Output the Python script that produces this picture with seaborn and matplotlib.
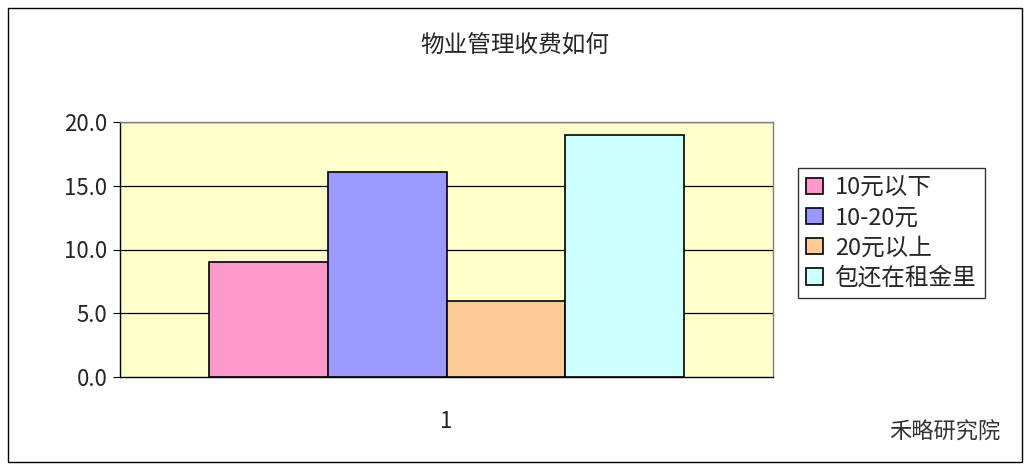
import matplotlib
matplotlib.use("Agg")
import matplotlib.pyplot as plt
import seaborn as sns
import pandas as pd
from matplotlib.patches import Rectangle

categories = ["1"]
series = ["10元以下", "10-20元", "20元以上", "包还在租金里"]
values = [9.0, 16.1, 6.0, 19.0]
colors = ["#FF99CC", "#9999FF", "#FFCC99", "#CCFFFF"]
yticks = [0, 5, 10, 15, 20]

sns.set_style("white")
plt.rcParams['font.family'] = ['Noto Sans CJK SC', 'DejaVu Sans']

df = pd.DataFrame({"cat": categories * 4, "series": series, "value": values})

fig = plt.figure(figsize=(10.36, 4.76), dpi=100)
ax = fig.add_axes([120/1036, 1-377/476, 653/1036, 255/476])
ax.set_facecolor("#FFFFCC")
sns.barplot(data=df, x="cat", y="value", hue="series", hue_order=series,
            palette=colors, saturation=1, width=0.727, edgecolor="black", linewidth=1.2,
            ax=ax, zorder=3)
ax.set_xlim(-0.5, 0.5)
ax.set_ylim(0, 20)
ax.set_yticks(yticks)
ax.set_yticklabels([f"{v:.1f}" for v in yticks], fontsize=16)
for v in yticks[1:]:
    ax.axhline(v, color="black", lw=0.9, zorder=1)
ax.tick_params(axis="y", length=5, left=True, direction="out", color="black", pad=4)
ax.tick_params(axis="x", length=0, labelsize=16, pad=24)
ax.set_xlabel("")
ax.set_ylabel("")
for s in ax.spines.values():
    s.set_color("#808080")
    s.set_linewidth(1)
ax.spines["left"].set_color("black")
ax.spines["bottom"].set_color("black")

leg = ax.legend(loc="upper left", bbox_to_anchor=((798-120)/653, (377-168)/255),
                fontsize=17, frameon=True, fancybox=False, edgecolor="black",
                handlelength=0.7, handleheight=0.7, handletextpad=0.5,
                borderpad=0.35, labelspacing=0.3, borderaxespad=0)
leg.get_frame().set_linewidth(1)

fig.text(515/1036, 1-45/476, "物业管理收费如何", ha="center", va="center", fontsize=17)
fig.text(1000/1036, 1-432/476, "禾略研究院", ha="right", va="center", fontsize=16, color="#333333")
fig.patches.append(Rectangle((8/1036, 14/476), 1014/1036, 454/476, transform=fig.transFigure,
                             fill=False, edgecolor="black", lw=1))
fig.savefig("out.png", dpi=100)
